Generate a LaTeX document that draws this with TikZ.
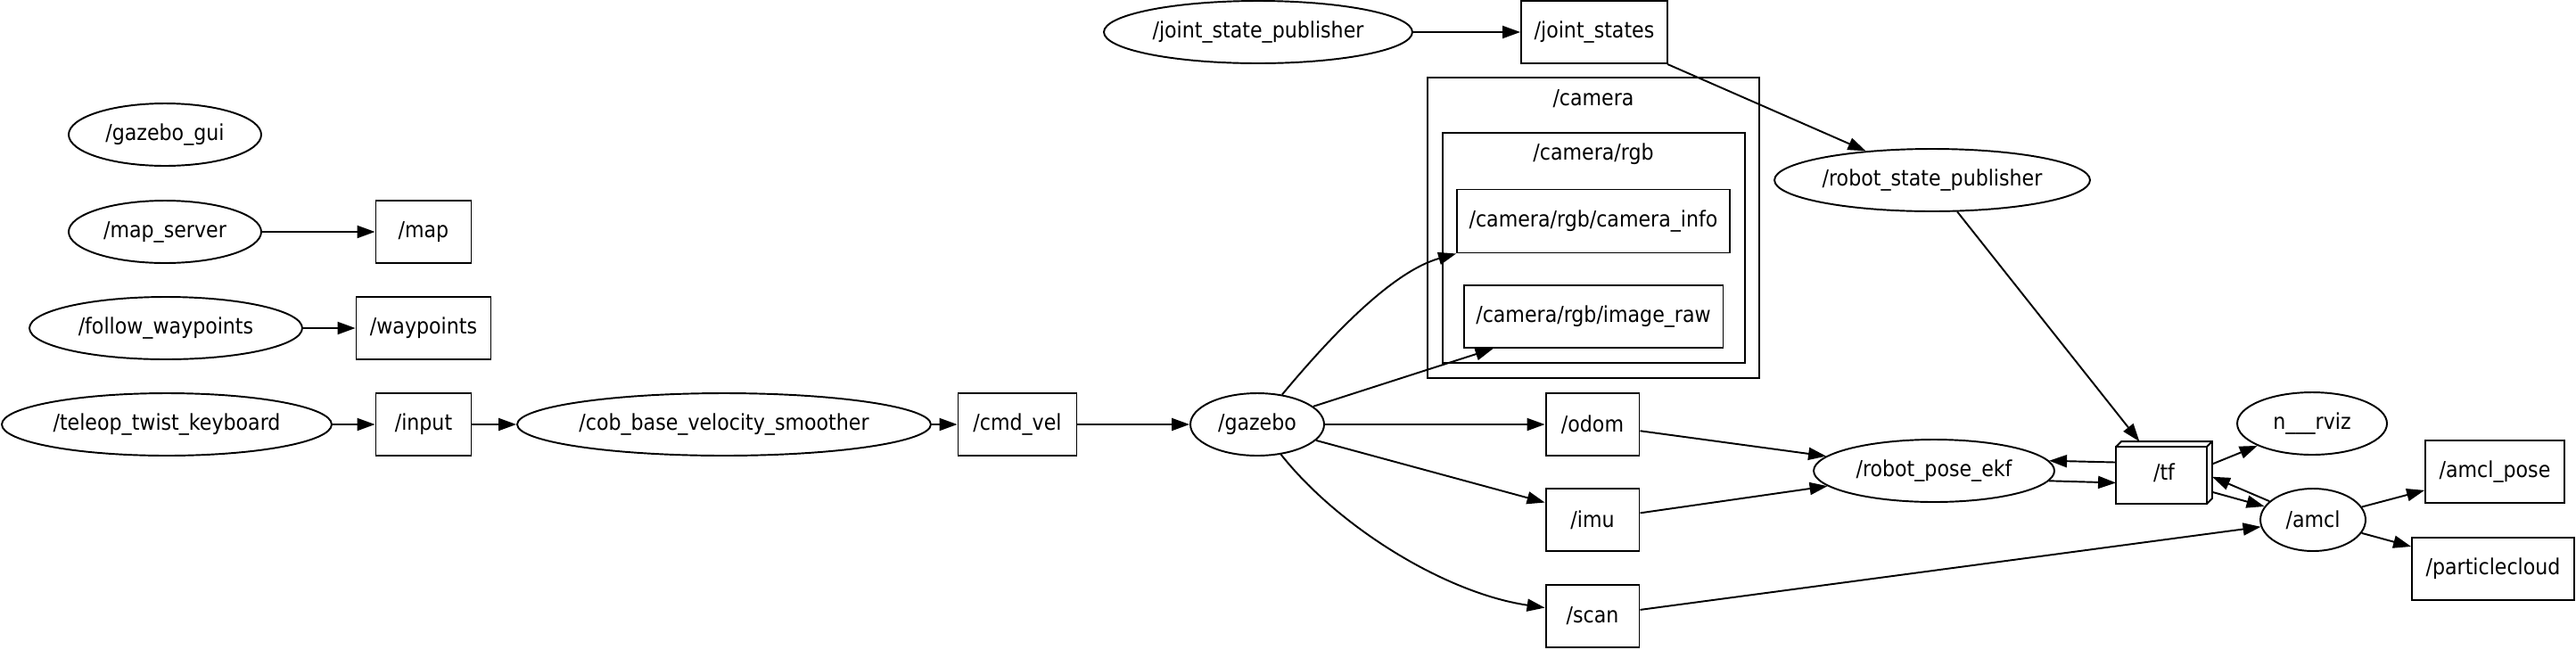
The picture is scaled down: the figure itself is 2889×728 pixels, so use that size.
\documentclass[tikz,border=0pt]{standalone}
\usepackage{fontspec}
\setmainfont{DejaVu Sans Condensed}
\usetikzlibrary{arrows.meta,shapes,positioning,calc}

\tikzset{
  rosnode/.style={ellipse,draw,minimum height=1.4cm,inner sep=0pt},
  rostopic/.style={rectangle,draw,minimum height=1.4cm,inner sep=0pt},
  cluster/.style={rectangle,draw,inner sep=0pt},
  >={Triangle[length=0.4cm,width=0.28cm]}
}

\begin{document}
\begin{tikzpicture}[x=0.02cm,y=-0.02cm,line width=1.1pt,font=\fontsize{14}{16}\selectfont]
\useasboundingbox (0,0) rectangle (2889,728);

% left column
\node[rosnode,minimum width=4.32cm] (gzgui) at (185,151) {/gazebo\_gui};
\node[rosnode,minimum width=4.32cm] (mapsrv) at (185,260) {/map\_server};
\node[rostopic,minimum width=2.14cm] (map) at (475,260) {/map};
\node[rosnode,minimum width=6.12cm] (followwp) at (186,368) {/follow\_waypoints};
\node[rostopic,minimum width=3.02cm] (waypoints) at (475,368) {/waypoints};
\node[rosnode,minimum width=7.40cm] (teleop) at (187,476) {/teleop\_twist\_keyboard};
\node[rostopic,minimum width=2.14cm] (input) at (475,476) {/input};
\node[rosnode,minimum width=9.28cm] (smoother) at (812,476) {/cob\_base\_velocity\_smoother};
\node[rostopic,minimum width=2.66cm] (cmdvel) at (1141,476) {/cmd\_vel};
\node[rosnode,minimum width=3.00cm] (gazebo) at (1410,476) {/gazebo};

% camera namespace
\node[cluster,minimum width=7.44cm,minimum height=6.74cm] (camgrp) at (1787,255.5) {};
\node (camlbl) at (1787,111) {/camera};
\node[cluster,minimum width=6.78cm,minimum height=5.16cm] (rgbgrp) at (1787.5,278) {};
\node (rgblbl) at (1787,173) {/camera/rgb};
\node[rostopic,minimum width=6.12cm,minimum height=1.42cm] (caminfo) at (1787,248) {/camera/rgb/camera\_info};
\node[rostopic,minimum width=5.82cm] (imgraw) at (1787,355) {/camera/rgb/image\_raw};

% middle
\node[rosnode,minimum width=6.92cm] (jsp) at (1411,36) {/joint\_state\_publisher};
\node[rostopic,minimum width=3.28cm] (jointstates) at (1788,36) {/joint\_states};
\node[rostopic,minimum width=2.10cm] (odom) at (1786,476) {/odom};
\node[rostopic,minimum width=2.10cm] (imu) at (1786,583) {/imu};
\node[rostopic,minimum width=2.10cm] (scan) at (1786,691) {/scan};

% right part
\node[rosnode,minimum width=7.08cm] (rsp) at (2167,202) {/robot\_state\_publisher};
\node[rosnode,minimum width=5.40cm] (ekf) at (2169,528) {/robot\_pose\_ekf};
\node[rectangle,inner sep=0pt,minimum width=2.12cm,minimum height=1.36cm] (tf) at (2427,530) {/tf};
\draw (tf.south west) rectangle ($(tf.north east)+(-6,6)$);
\draw ($(tf.north west)+(0,6)$) -- ($(tf.north west)+(6,0)$) -- (tf.north east) -- ($(tf.south east)+(0,-6)$) -- ($(tf.south east)+(-6,0)$);
\draw ($(tf.north east)+(-6,6)$) -- (tf.north east);
\node[rosnode,minimum width=3.36cm] (rviz) at (2593,475) {n\_\_\_rviz};
\node[rosnode,minimum width=2.36cm] (amcl) at (2594,583) {/amcl};
\node[rostopic,minimum width=3.12cm] (amclpose) at (2798,529) {/amcl\_pose};
\node[rostopic,minimum width=3.64cm] (pcloud) at (2796,638) {/particlecloud};

% edges
\draw[->] (mapsrv) -- (map);
\draw[->] (followwp) -- (waypoints);
\draw[->] (teleop) -- (input);
\draw[->] (input) -- (smoother);
\draw[->] (smoother) -- (cmdvel);
\draw[->] (cmdvel) -- (gazebo);
\draw[->] (jsp) -- (jointstates);
\draw[->] (jointstates) -- (rsp);
\draw[->] (gazebo) .. controls (1490,380) and (1560,305) .. (caminfo.south west);
\draw[->] (gazebo) -- ($(imgraw.south west)+(34,0)$);
\draw[->] (gazebo) -- (odom);
\draw[->] (gazebo) -- (imu.160);
\draw[->] (gazebo) .. controls (1500,590) and (1620,665) .. (scan.170);
\draw[->] (odom) -- (ekf);
\draw[->] (imu) -- (ekf);
\draw[->] (scan) -- (amcl);
\draw[->] (rsp) -- (tf);
\draw[->] (tf.168) -- (ekf.5);
\draw[->] (ekf.-5) -- (tf.192);
\draw[->] (tf.10) -- (rviz);
\draw[->] (amcl) -- (tf.-5);
\draw[->] (tf.-22) -- (amcl);
\draw[->] (amcl) -- (amclpose);
\draw[->] (amcl) -- (pcloud);
\end{tikzpicture}
\end{document}
